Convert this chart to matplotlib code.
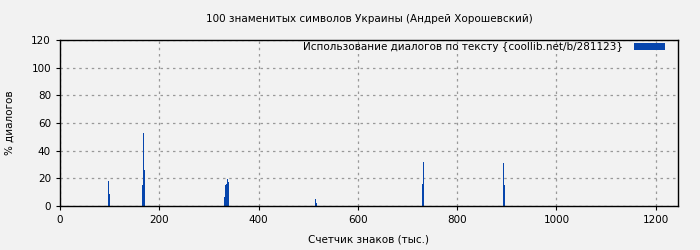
import matplotlib
matplotlib.use("Agg")
import matplotlib.pyplot as plt

# position in text (thousands of characters) and share of dialogues, %
positions = [97, 99, 166, 168, 170, 331, 333, 335, 337, 339, 514, 516, 730, 732, 893, 895]
dialog_pct = [18, 8.5, 15.4, 52.8, 26, 6.5, 15.2, 16, 19.5, 17.4, 5, 2.2, 16, 31.8, 31, 15.2]

title = "100 знаменитых символов Украины (Андрей Хорошевский)"
legend_label = "Использование диалогов по тексту {coollib.net/b/281123}"

bg = "#f2f2f2"
blue = "#0645ad"
fs = 7.5

fig = plt.figure(figsize=(7, 2.5), dpi=100, facecolor=bg)
ax = fig.add_axes([60 / 700, 44 / 250, 618 / 700, 166 / 250], facecolor=bg)

ax.bar(positions, dialog_pct, width=2, align="edge", color=blue, linewidth=0,
       label=legend_label)

ax.set_xlim(0, 1245)
ax.set_ylim(0, 120)
ax.set_xticks(range(0, 1201, 200))
ax.set_yticks(range(0, 121, 20))
ax.grid(True, color="#999999", linestyle=(0, (2, 3)), linewidth=0.9)
ax.set_axisbelow(True)
ax.tick_params(labelsize=fs, length=3, width=0.8)
for s in ax.spines.values():
    s.set_color("black")
    s.set_linewidth(1)

ax.set_title(title, fontsize=fs, pad=13)
ax.set_xlabel("Счетчик знаков (тыс.)", fontsize=fs, labelpad=7)
ax.set_ylabel("% диалогов", fontsize=fs, labelpad=12)

leg = ax.legend(loc="upper right", bbox_to_anchor=(0.9854, 1.012), fontsize=fs,
                frameon=False, borderaxespad=0, markerfirst=False,
                handlelength=3.0, handleheight=0.6, handletextpad=1.0)

fig.savefig("out.png", dpi=100, facecolor=bg)
